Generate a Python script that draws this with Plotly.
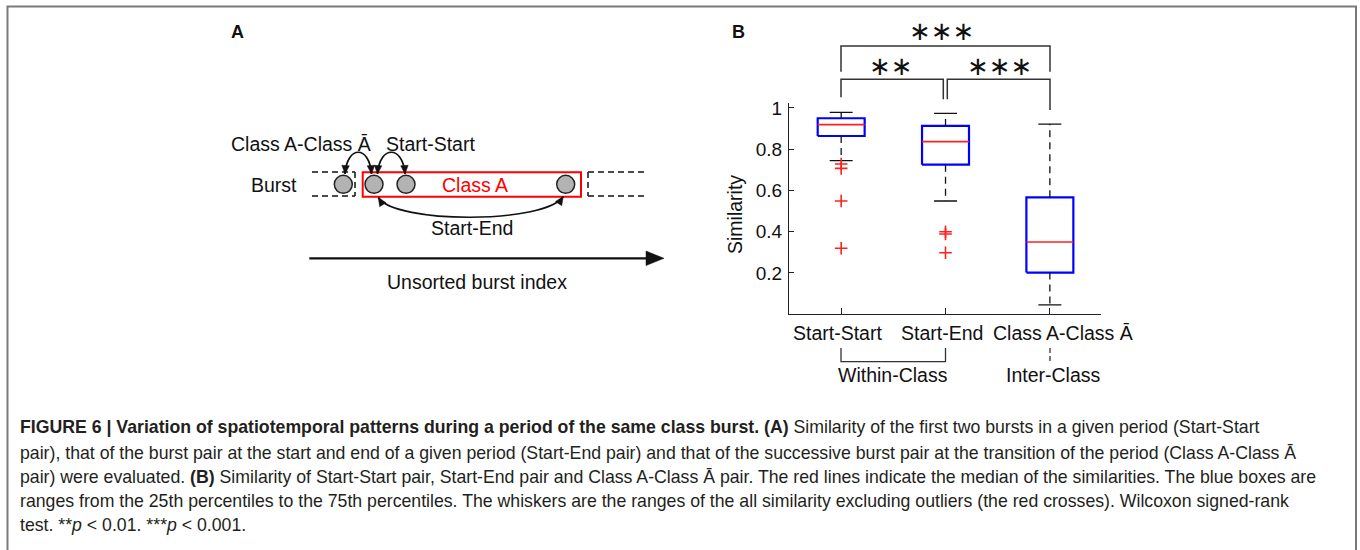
import plotly.graph_objects as go

# ---------------- data (panel B) ----------------
categories = ["Start-Start", "Start-End", "Class A-Class Ā"]
positions = [1, 2, 3]
q1 = [0.864, 0.725, 0.202]
median = [0.919, 0.837, 0.350]
q3 = [0.950, 0.913, 0.567]
whisker_low = [0.745, 0.549, 0.045]
whisker_high = [0.979, 0.974, 0.922]
outliers = [[0.728, 0.707, 0.549, 0.320], [0.400, 0.389, 0.298], []]
ytick_vals = [0.2, 0.4, 0.6, 0.8, 1.0]
ytick_text = ["0.2", "0.4", "0.6", "0.8", "1"]
sig_labels = ["∗∗∗", "∗∗", "∗∗∗"]
group_labels = ["Within-Class", "Inter-Class"]

caption_lines = [
    "<b>FIGURE 6 | Variation of spatiotemporal patterns during a period of the same class burst. (A)</b> Similarity of the first two bursts in a given period (Start-Start",
    "pair), that of the burst pair at the start and end of a given period (Start-End pair) and that of the successive burst pair at the transition of the period (Class A-Class Ā",
    "pair) were evaluated. <b>(B)</b> Similarity of Start-Start pair, Start-End pair and Class A-Class Ā pair. The red lines indicate the median of the similarities. The blue boxes are",
    "ranges from the 25th percentiles to the 75th percentiles. The whiskers are the ranges of the all similarity excluding outliers (the red crosses). Wilcoxon signed-rank",
    "test. **<i>p</i> &lt; 0.01. ***<i>p</i> &lt; 0.001.",
]

W, H = 1360, 550
FONT = "Liberation Sans, Arial, sans-serif"
CAPFONT = "Liberation Sans, Arial, sans-serif"
FS = 19.5


def px(x):
    return x / W


def py(y):
    return 1 - y / H


def pth(points, close=False):
    s = "M {},{}".format(px(points[0][0]), py(points[0][1]))
    for p in points[1:]:
        s += " L {},{}".format(px(p[0]), py(p[1]))
    if close:
        s += " Z"
    return s


fig = go.Figure()

# ---------------- box plot traces ----------------
hw = 0.225
cw = 0.11
for i, xc in enumerate(positions):
    fig.add_trace(go.Scatter(
        x=[xc - hw, xc + hw, xc + hw, xc - hw, xc - hw],
        y=[q1[i], q1[i], q3[i], q3[i], q1[i]],
        mode="lines", line=dict(color="#0000ff", width=2.2),
        showlegend=False, hoverinfo="skip"))
    fig.add_trace(go.Scatter(
        x=[xc - hw, xc + hw], y=[median[i], median[i]],
        mode="lines", line=dict(color="#ff2020", width=1.6),
        showlegend=False, hoverinfo="skip"))
    fig.add_trace(go.Scatter(
        x=[xc, xc, None, xc, xc],
        y=[q3[i], whisker_high[i], None, q1[i], whisker_low[i]],
        mode="lines", line=dict(color="#111111", width=1.3, dash="7px,5px"),
        showlegend=False, hoverinfo="skip"))
    fig.add_trace(go.Scatter(
        x=[xc - cw, xc + cw, None, xc - cw, xc + cw],
        y=[whisker_high[i], whisker_high[i], None, whisker_low[i], whisker_low[i]],
        mode="lines", line=dict(color="#111111", width=1.3),
        showlegend=False, hoverinfo="skip"))
    if outliers[i]:
        fig.add_trace(go.Scatter(
            x=[xc] * len(outliers[i]), y=outliers[i], mode="markers",
            marker=dict(symbol="cross-thin", size=9, line=dict(color="#ff2020", width=1.6)),
            showlegend=False, hoverinfo="skip"))

# ---------------- shapes ----------------
shapes = []
ann = []
LC = "#111111"


def label(txt, x, y, size=FS, color="#111", **kw):
    d = dict(x=px(x), y=py(y), xref="paper", yref="paper", text=txt, showarrow=False,
             xanchor="center", yanchor="middle", font=dict(family=FONT, size=size, color=color))
    d.update(kw)
    ann.append(d)


# figure border
shapes.append(dict(type="path", xref="paper", yref="paper",
                   path=pth([(7.5, 550), (7.5, 6.5), (1356, 6.5), (1356, 550)]),
                   line=dict(color="#7a7a7a", width=2)))

# category labels under the x axis (per-label offsets as in the original)
label_shift = [-3.5, -3.5, 13]
for i, xc in enumerate(positions):
    ann.append(dict(x=xc, y=py(333), xref="x", yref="paper", text=categories[i], showarrow=False,
                    xanchor="center", yanchor="middle", xshift=label_shift[i],
                    font=dict(family=FONT, size=FS, color="#111")))

# significance brackets
BC = "#333333"
for pts in [[(841, 71.7), (841, 46), (1050, 46), (1050, 71.7)],
            [(841, 97.3), (841, 79.3), (943.3, 79.3), (943.3, 99.3)],
            [(947.3, 99.3), (947.3, 79.3), (1050, 79.3), (1050, 110)]]:
    shapes.append(dict(type="path", xref="paper", yref="paper", path=pth(pts),
                       line=dict(color=BC, width=1.5)))
for lab, (x, y) in zip(sig_labels, [(941.7, 31), (890.7, 66), (999.3, 66)]):
    ann.append(dict(x=px(x), y=py(y), xref="paper", yref="paper", text=lab, showarrow=False,
                    xanchor="center", yanchor="middle",
                    font=dict(family="DejaVu Sans", size=26, color="#111")))

# group brackets under x axis
shapes.append(dict(type="path", xref="paper", yref="paper",
                   path=pth([(841, 348), (841, 361.7), (945.5, 361.7), (945.5, 348)]),
                   line=dict(color=BC, width=1.3)))
shapes.append(dict(type="line", xref="paper", yref="paper", x0=px(1050), x1=px(1050),
                   y0=py(348), y1=py(362), line=dict(color=BC, width=1.3, dash="5px,3px")))
label(group_labels[0], 893, 375)
label(group_labels[1], 1053, 375)

# y axis title
label("Similarity", 735, 215, textangle=-90)

# panel labels
label("<b>A</b>", 237, 32, size=18)
label("<b>B</b>", 738, 32, size=18)

# ---------------- panel A diagram ----------------
dash_box = dict(color=LC, width=1.5, dash="6px,4px")
for (a, b) in [((312, 172), (355, 172)), ((312, 196), (355, 196)), ((355, 172), (355, 196)),
               ((588, 172), (645, 172)), ((588, 196), (645, 196)), ((588, 172), (588, 196))]:
    shapes.append(dict(type="line", xref="paper", yref="paper", x0=px(a[0]), y0=py(a[1]),
                       x1=px(b[0]), y1=py(b[1]), line=dash_box))
shapes.append(dict(type="rect", xref="paper", yref="paper", x0=px(362.7), x1=px(581),
                   y0=py(172.3), y1=py(196.7), line=dict(color="#ff0000", width=2)))
for cx in [343.3, 374, 406, 565.7]:
    r = 9
    shapes.append(dict(type="circle", xref="paper", yref="paper", x0=px(cx - r), x1=px(cx + r),
                       y0=py(184.3 - r), y1=py(184.3 + r), fillcolor="#b3b3b3",
                       line=dict(color="#222", width=1.5)))


def bez(p0, c1, c2, p1):
    return "M {},{} C {},{} {},{} {},{}".format(px(p0[0]), py(p0[1]), px(c1[0]), py(c1[1]),
                                                px(c2[0]), py(c2[1]), px(p1[0]), py(p1[1]))


def head(tip, frm, L=8.5, Wd=7.5):
    dx, dy = tip[0] - frm[0], tip[1] - frm[1]
    n = (dx * dx + dy * dy) ** 0.5
    ux, uy = dx / n, dy / n
    bx, by = tip[0] - ux * L, tip[1] - uy * L
    nx, ny = -uy, ux
    return pth([tip, (bx + nx * Wd / 2, by + ny * Wd / 2), (bx - nx * Wd / 2, by - ny * Wd / 2)], close=True)


arcs = [((345, 174), (347, 145), (369.5, 145), (371.5, 174)),
        ((377.5, 174), (379.5, 145), (403, 145), (405, 174)),
        ((378.3, 197.5), (395, 224), (545, 224), (563.3, 196.5))]
for p0, c1, c2, p1 in arcs:
    shapes.append(dict(type="path", xref="paper", yref="paper", path=bez(p0, c1, c2, p1),
                       line=dict(color=LC, width=1.7)))
    shapes.append(dict(type="path", xref="paper", yref="paper", path=head(p0, c1),
                       fillcolor=LC, line=dict(color=LC, width=0.5)))
    shapes.append(dict(type="path", xref="paper", yref="paper", path=head(p1, c2),
                       fillcolor=LC, line=dict(color=LC, width=0.5)))

# long arrow
shapes.append(dict(type="line", xref="paper", yref="paper", x0=px(309.3), x1=px(650),
                   y0=py(258.3), y1=py(258.3), line=dict(color=LC, width=2.2)))
shapes.append(dict(type="path", xref="paper", yref="paper",
                   path=pth([(664, 258.3), (646, 251), (646, 265.6)], close=True),
                   fillcolor=LC, line=dict(color=LC, width=0.5)))

label("Burst", 274, 185)
label("Class A", 475, 185, color="#ff0000")
label("Class A-Class Ā", 301, 144)
label("Start-Start", 430, 144)
label("Start-End", 472, 228.3)
label("Unsorted burst index", 477, 281.7)

# ---------------- caption ----------------
for line, y in zip(caption_lines, [427, 452.5, 477, 501, 525]):
    ann.append(dict(x=px(18), y=py(y), xref="paper", yref="paper", text=line, showarrow=False,
                    xanchor="left", yanchor="middle", align="left",
                    font=dict(family=CAPFONT, size=17.7, color="#231f20")))

fig.update_layout(
    template="none",
    width=W, height=H, margin=dict(l=0, r=0, t=0, b=0, pad=0),
    paper_bgcolor="white", plot_bgcolor="rgba(0,0,0,0)",
    shapes=shapes, annotations=ann, showlegend=False,
    xaxis=dict(domain=[px(789), px(1101)], range=[0.5, 3.49], tickvals=positions,
               ticktext=categories, showticklabels=False,
               ticks="inside", ticklen=6, tickcolor="#222", tickangle=0,
               showline=True, linecolor="#222", linewidth=1.3, showgrid=False, zeroline=False,
               automargin=False),
    yaxis=dict(domain=[py(314.25), py(103)], range=[0, 1.024], tickvals=ytick_vals,
               ticktext=ytick_text, ticks="inside", ticklen=5, tickcolor="#222",
               showline=True, linecolor="#222", linewidth=1.3, showgrid=False, zeroline=False,
               automargin=False,
               tickfont=dict(family=FONT, size=19, color="#111"), ticklabelstandoff=2),
)

fig.write_html("out.html", config={"displayModeBar": False},
               post_script="document.body.style.margin='0px';")
